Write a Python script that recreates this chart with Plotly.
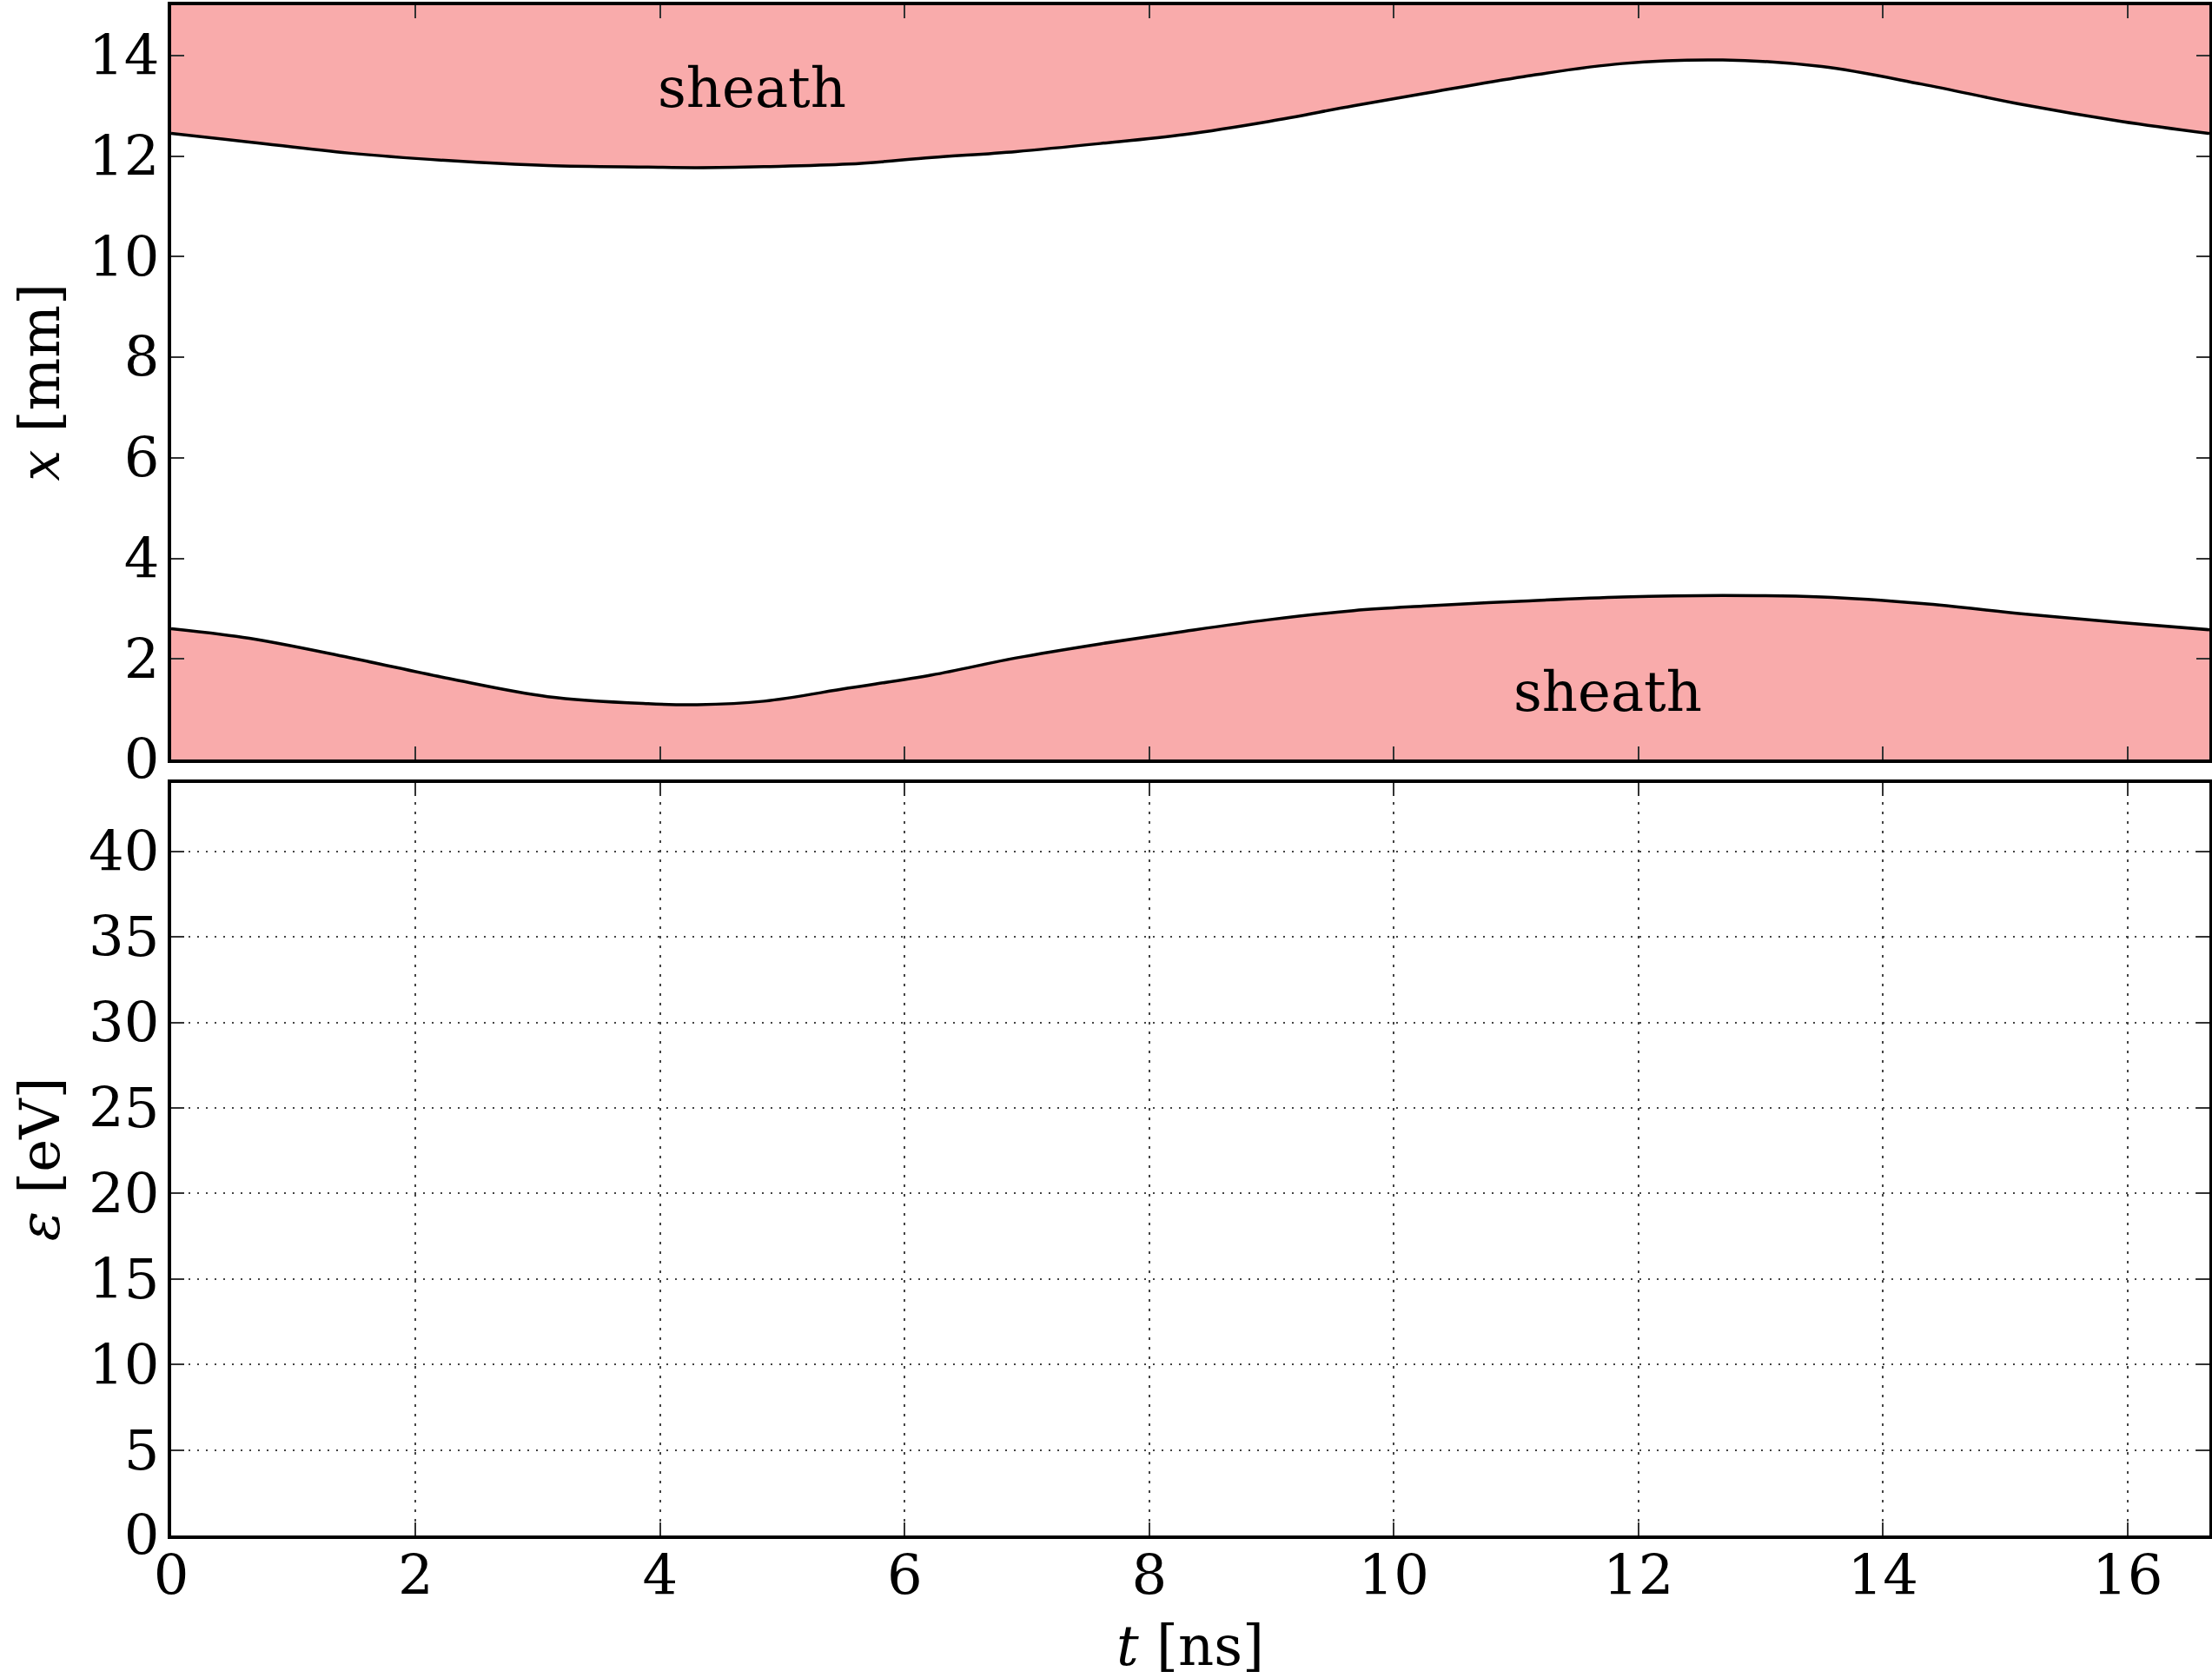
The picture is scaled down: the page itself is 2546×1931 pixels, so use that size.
import plotly.graph_objects as go

# ---- data ----
t_ns = [0.0, 0.64, 1.45, 2.27, 3.08, 3.9, 4.3, 4.85, 5.54, 6.22, 6.91, 7.6,
        8.29, 8.98, 9.67, 10.24, 11.06, 11.87, 12.69, 13.5, 14.32, 15.13,
        15.95, 16.67]
upper_edge_mm = [12.45, 12.28, 12.06, 11.91, 11.81, 11.78, 11.77, 11.79, 11.84,
                 11.97, 12.09, 12.25, 12.43, 12.69, 13.00, 13.24, 13.58, 13.84,
                 13.91, 13.78, 13.43, 13.03, 12.69, 12.45]
lower_edge_mm = [2.60, 2.41, 2.03, 1.61, 1.25, 1.11, 1.09, 1.16, 1.42, 1.68,
                 2.02, 2.30, 2.55, 2.78, 2.96, 3.05, 3.15, 3.23, 3.26, 3.23,
                 3.10, 2.90, 2.72, 2.58]
gap_mm = 15.0
t_max = 16.67
eps_max = 44
x_ticks = [0, 2, 4, 6, 8, 10, 12, 14, 16]
xpos_ticks = [0, 2, 4, 6, 8, 10, 12, 14]
eps_ticks = [0, 5, 10, 15, 20, 25, 30, 35, 40]
labels = [("sheath", 4.75, 13.36), ("sheath", 11.75, 1.35)]

PINK = "#f9abab"
FONT = "DejaVu Serif"
FS = 64

fig = go.Figure()

# upper sheath: fill from the electrode (top of gap) down to the sheath edge
fig.add_trace(go.Scatter(x=t_ns, y=[gap_mm] * len(t_ns), mode="lines",
                         line=dict(width=0, color=PINK), showlegend=False,
                         hoverinfo="skip", xaxis="x", yaxis="y"))
fig.add_trace(go.Scatter(x=t_ns, y=upper_edge_mm, mode="lines",
                         line=dict(color="black", width=3.5, shape="spline", smoothing=1.0),
                         fill="tonexty", fillcolor=PINK, showlegend=False,
                         xaxis="x", yaxis="y"))
# lower sheath
fig.add_trace(go.Scatter(x=t_ns, y=lower_edge_mm, mode="lines",
                         line=dict(color="black", width=3.5, shape="spline", smoothing=1.0),
                         fill="tozeroy", fillcolor=PINK, showlegend=False,
                         xaxis="x", yaxis="y"))
# empty energy panel
fig.add_trace(go.Scatter(x=[], y=[], mode="markers", showlegend=False,
                         xaxis="x2", yaxis="y2"))

for txt, tx, ty in labels:
    fig.add_annotation(x=tx, y=ty, xref="x", yref="y", text=txt, showarrow=False,
                       font=dict(family=FONT, size=FS, color="black"))

axis_common = dict(showline=True, linecolor="black", linewidth=3.5, mirror="ticks",
                   ticks="inside", ticklen=15, tickwidth=2, tickcolor="#333",
                   tickfont=dict(family=FONT, size=FS, color="black"),
                   zeroline=False, automargin=False)

fig.update_layout(
    width=2546, height=1931,
    margin=dict(l=197, r=3, t=6, b=164),
    paper_bgcolor="white", plot_bgcolor="white",
    showlegend=False,
    xaxis=dict(**axis_common, domain=[0, 1], range=[0, t_max], matches="x2",
               tickvals=x_ticks, showticklabels=False, showgrid=False,
               anchor="y"),
    yaxis=dict(**axis_common, domain=[0.5071, 1], range=[0, gap_mm],
               tickvals=[0, 2, 4, 6, 8, 10, 12, 14], showgrid=False,
               ticklabelstandoff=-3,
               title=dict(text="<i>x</i> [mm]", standoff=14,
                          font=dict(family=FONT, size=FS, color="black")),
               anchor="x"),
    xaxis2=dict(**axis_common, domain=[0, 1], range=[0, t_max],
                tickvals=x_ticks, showgrid=True, gridcolor="#444", gridwidth=2,
                griddash="3px,8px", ticklabelstandoff=-13,
                title=dict(text="<i>t</i> [ns]", standoff=50,
                           font=dict(family=FONT, size=FS, color="black")),
                anchor="y2"),
    yaxis2=dict(**axis_common, domain=[0, 0.4918], range=[0, eps_max],
                tickvals=eps_ticks, showgrid=True, gridcolor="#444", gridwidth=2,
                griddash="2px,8px", ticklabelstandoff=-3,
                title=dict(text="<i>ε</i> [eV]", standoff=14,
                           font=dict(family=FONT, size=FS, color="black")),
                anchor="x2"),
)

fig.write_html("out.html")
